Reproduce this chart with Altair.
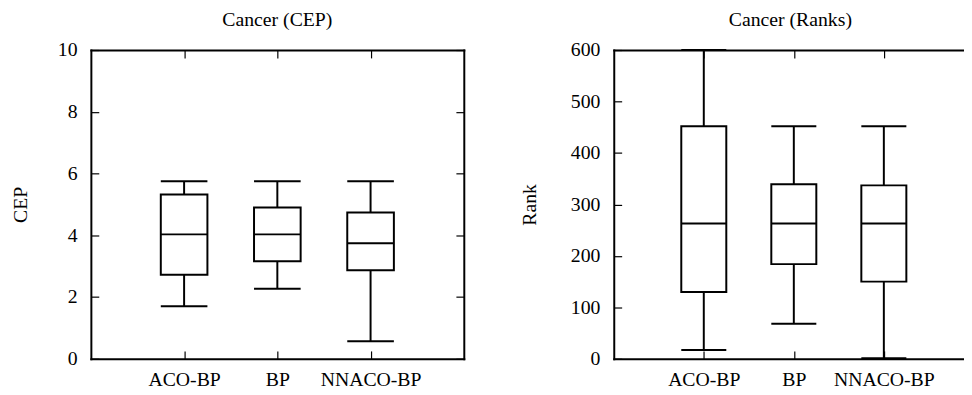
import altair as alt
import pandas as pd

# ---- data ----
methods = ["ACO-BP", "BP", "NNACO-BP"]
positions = [1, 2, 3]

cep_min = [1.70, 2.27, 0.57]
cep_q1 = [2.72, 3.16, 2.87]
cep_med = [4.03, 4.03, 3.74]
cep_q3 = [5.32, 4.90, 4.74]
cep_max = [5.75, 5.75, 5.75]
cep_ticks = [0, 2, 4, 6, 8, 10]

rank_min = [17, 68, 1]
rank_q1 = [130, 184, 150]
rank_med = [263, 263, 263]
rank_q3 = [452, 339, 337]
rank_max = [600, 452, 452]
rank_ticks = [0, 100, 200, 300, 400, 500, 600]

FONT = "Liberation Serif"
FS = 20
TICK = 8
SW = 2

label_expr = " : ".join(
    f"datum.value == {p} ? '{m}'" for p, m in zip(positions, methods)
) + " : ''"


def panel(title, ytitle, lo, q1, med, q3, hi, ymax, yticks, width, xmax,
          tpad, right_border, right_tick):
    df = pd.DataFrame({
        "method": methods, "pos": positions,
        "lo": lo, "q1": q1, "med": med, "q3": q3, "hi": hi,
    })
    base = alt.Chart(df).transform_calculate(
        x0="datum.pos - 0.25", x1="datum.pos + 0.25"
    )
    xs = alt.Scale(domain=[0, xmax], nice=False, zero=False)
    ys = alt.Scale(domain=[0, ymax], nice=False, zero=False)

    common = dict(offset=-TICK, tickSize=TICK, domain=False, grid=False,
                  tickColor="black", tickWidth=1.2, minExtent=0)
    dom = dict(offset=0, ticks=False, labels=False, domain=True,
               domainColor="black", domainWidth=SW, domainCap="square",
               grid=False, title=None, minExtent=0)

    main_x = alt.Axis(orient="bottom", values=positions, labelExpr=label_expr,
                      labelPadding=11, title=None, labelFont=FONT,
                      labelFontSize=FS, labelColor="black", **common)
    main_y = alt.Axis(orient="left", values=yticks, labelPadding=14,
                      title=ytitle, titleFont=FONT, titleFontSize=FS,
                      titleFontWeight="normal", titleColor="black",
                      titlePadding=tpad, labelFont=FONT, labelFontSize=FS,
                      labelColor="black", **common)
    mirror_x = alt.Axis(orient="top", values=positions, labels=False,
                        title=None, **common)
    mirror_y = alt.Axis(orient="right", values=yticks, labels=False,
                        title=None, offset=-right_tick, tickSize=right_tick,
                        domain=False, grid=False, minExtent=0,
                        tickColor="black" if right_border else "#888888",
                        tickWidth=1.2)

    whisk = base.mark_rule(color="black", strokeWidth=SW).encode(
        x=alt.X("pos:Q", scale=xs, axis=main_x),
        y=alt.Y("lo:Q", scale=ys, axis=main_y),
        y2="hi:Q",
    )
    box = base.mark_rect(fill="white", stroke="black", strokeWidth=SW).encode(
        x=alt.X("x0:Q", scale=xs, axis=mirror_x),
        x2="x1:Q",
        y=alt.Y("q1:Q", scale=ys, axis=mirror_y),
        y2="q3:Q",
    )

    def hline(field, xaxis, yaxis):
        return base.mark_rule(color="black", strokeWidth=SW).encode(
            x=alt.X("x0:Q", scale=xs, axis=xaxis),
            x2="x1:Q",
            y=alt.Y(f"{field}:Q", scale=ys, axis=yaxis),
        )

    med_l = hline("med", alt.Axis(orient="bottom", **dom),
                  alt.Axis(orient="left", **dom))
    lo_l = hline("lo", alt.Axis(orient="top", **dom),
                 alt.Axis(orient="right", **dom) if right_border else None)
    hi_l = hline("hi", None, None)

    return alt.layer(
        whisk, box, med_l, lo_l, hi_l
    ).resolve_scale(x="independent", y="independent").properties(
        width=width, height=313,
        title=alt.TitleParams(title, font=FONT, fontSize=FS,
                              fontWeight="normal", color="black",
                              frame="group", anchor="middle", offset=10),
    )


left = panel("Cancer (CEP)", "CEP", cep_min, cep_q1, cep_med, cep_q3,
             cep_max, 10, cep_ticks, 378, 4, 27, True, TICK)
# right panel runs past the picture's right edge: only part of it is shown
right = panel("Cancer (Ranks)", "Rank", rank_min, rank_q1, rank_med,
              rank_q3, rank_max, 600, rank_ticks, 358, 4 * 358 / 365, 31,
              False, 1.5)

chart = alt.hconcat(left, right, spacing=56).properties(
    padding={"left": 3, "top": 0, "right": -4, "bottom": -3},
    background="white",
).configure(font=FONT).configure_view(stroke="transparent", strokeWidth=0)

chart.save("out.html", embed_options={"renderer": "svg", "actions": False})
